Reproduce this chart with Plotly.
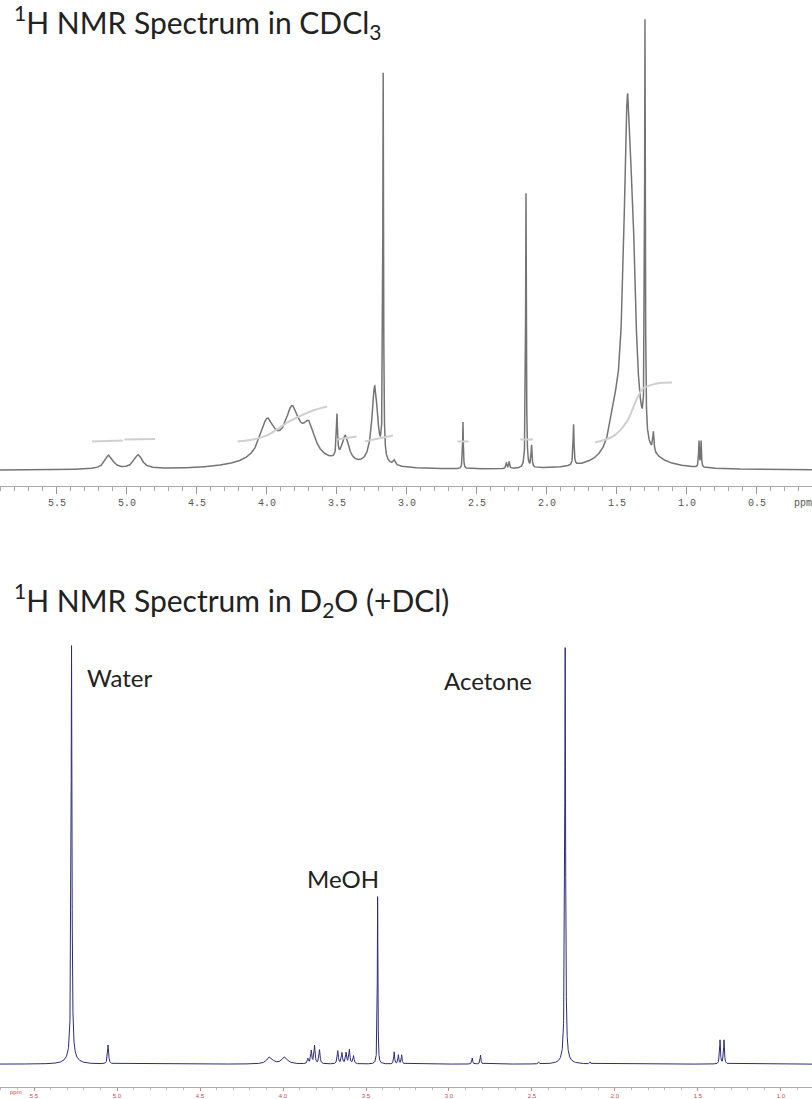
import numpy as np
import plotly.graph_objects as go

# ---------------- DATA ----------------
# 1H NMR in CDCl3 : peak list (ppm, intensity a.u., half-width ppm)
cdcl3_ppm = [5.13, 4.92, 4.00, 3.82, 3.70, 3.85, 3.50, 3.44, 3.23, 3.17, 3.09,
             2.60, 2.29, 2.27, 2.15, 2.11, 1.81, 1.52, 1.425, 1.385, 1.42, 1.30,
             1.24, 0.914, 0.899]
cdcl3_height = [14, 14, 36, 42, 28, 15, 42, 27, 80, 384, 5,
                47, 6, 7, 276, 22, 41, 25, 330, 110, 12, 414,
                19, 26, 26]
cdcl3_hwhm = [0.035, 0.035, 0.06, 0.06, 0.05, 0.25, 0.005, 0.03, 0.025, 0.003, 0.01,
              0.003, 0.004, 0.004, 0.003, 0.004, 0.004, 0.04, 0.033, 0.025, 0.15, 0.003,
              0.005, 0.003, 0.003]

# integral traces (ppm, integral height)
int1_ppm = [5.25, 5.03]; int1_val = [29, 30]
int2_ppm = [5.02, 4.80]; int2_val = [31, 31.5]
int3_ppm = [4.21, 4.10, 4.00, 3.84, 3.69, 3.57]; int3_val = [29, 31, 35, 49, 59, 64]
int4_ppm = [3.50, 3.36]; int4_val = [31, 34]
int5_ppm = [3.30, 3.10]; int5_val = [29, 35]
int6_ppm = [2.64, 2.56]; int6_val = [29, 29]
int7_ppm = [2.19, 2.10]; int7_val = [31, 31]
int8_ppm = [1.657, 1.529, 1.429, 1.357, 1.314, 1.214, 1.107]
int8_val = [28, 34, 49, 72, 82, 87, 88]

# 1H NMR in D2O (+DCl) : peak list
d2o_ppm = [5.274, 5.274, 5.054, 4.08, 3.99, 3.85, 3.83, 3.81, 3.78, 3.67, 3.645, 3.62, 3.60, 3.575,
           3.43, 3.33, 3.305, 3.285, 2.86, 2.81, 2.46, 2.30, 2.30, 2.15, 1.367, 1.343]
d2o_height = [412, 8, 19, 7, 7, 5, 13, 18, 14, 13, 11, 11, 14, 8,
              168, 12, 9, 9, 6, 9, 2, 413, 5, 2, 24, 24]
d2o_hwhm = [0.003, 0.03, 0.004, 0.02, 0.02, 0.004, 0.004, 0.004, 0.004, 0.004, 0.004, 0.004, 0.004, 0.004,
            0.002, 0.003, 0.003, 0.003, 0.003, 0.003, 0.003, 0.003, 0.025, 0.003, 0.003, 0.003]

peak_labels = ["Water", "MeOH", "Acetone"]
label_ppm = [5.19, 3.87, 3.04]
label_int = [388, 186, 385]

top_range = [5.907, 0.107]
bot_range = [5.705, 0.813]


def spectrum(lo, hi, ppm, hgt, hw):
    grid = np.concatenate([np.linspace(lo, hi, 12000), np.array(ppm)])
    grid = np.sort(grid)
    y = np.zeros_like(grid)
    for p, h, w in zip(ppm, hgt, hw):
        y += h * w**2 / ((grid - p)**2 + w**2)
    return grid, y


x1, y1 = spectrum(top_range[1], top_range[0], cdcl3_ppm, cdcl3_height, cdcl3_hwhm)
x2, y2 = spectrum(bot_range[1], bot_range[0], d2o_ppm, d2o_height, d2o_hwhm)

H = 1099.0
def py(px):
    return 1 - px / H

fig = go.Figure()
fig.add_trace(go.Scatter(x=x1, y=y1, mode="lines", line=dict(color="#747474", width=1.5),
                         xaxis="x", yaxis="y", hoverinfo="skip", showlegend=False))
for ip, iv in [(int1_ppm, int1_val), (int2_ppm, int2_val), (int3_ppm, int3_val),
               (int4_ppm, int4_val), (int5_ppm, int5_val), (int6_ppm, int6_val),
               (int7_ppm, int7_val), (int8_ppm, int8_val)]:
    fig.add_trace(go.Scatter(x=ip, y=iv, mode="lines", line=dict(color="#cfcfcf", width=2, shape="spline"),
                             xaxis="x", yaxis="y", hoverinfo="skip", showlegend=False))
fig.add_trace(go.Scatter(x=x2, y=y2, mode="lines", line=dict(color="#2c2c78", width=1),
                         xaxis="x2", yaxis="y2", hoverinfo="skip", showlegend=False))

for t, xp, yv in zip(peak_labels, label_ppm, label_int):
    fig.add_annotation(x=xp, y=yv, xref="x2", yref="y2", text=t, showarrow=False,
                       xanchor="left", yanchor="middle",
                       font=dict(family="Lato", size=24, color="#222"))

fig.add_annotation(x=12 / 812, y=py(22), xref="paper", yref="paper", showarrow=False,
                   xanchor="left", yanchor="middle",
                   text="<sup>1</sup>H NMR Spectrum in CDCl<sub>3</sub>",
                   font=dict(family="Lato", size=30, color="#222"))
fig.add_annotation(x=12 / 812, y=py(602), xref="paper", yref="paper", showarrow=False,
                   xanchor="left", yanchor="middle",
                   text="<sup>1</sup>H NMR Spectrum in D<sub>2</sub>O (+DCl)",
                   font=dict(family="Lato", size=30, color="#222"))
fig.add_annotation(x=792 / 812, y=py(505), xref="paper", yref="paper", showarrow=False,
                   xanchor="left", yanchor="middle", text="ppm",
                   font=dict(family="Liberation Mono", size=10, color="#555"))
fig.add_annotation(x=8 / 812, y=py(1096), xref="paper", yref="paper", showarrow=False,
                   xanchor="left", yanchor="middle", text="ppm",
                   font=dict(family="Liberation Sans", size=6, color="#d04848"))

fig.update_layout(
    width=812, height=1099, margin=dict(l=0, r=0, t=0, b=0),
    paper_bgcolor="white", plot_bgcolor="white", showlegend=False,
    xaxis=dict(domain=[0, 1], range=top_range, anchor="y", showgrid=False, zeroline=False,
               showline=True, linecolor="#aaaaaa", linewidth=1,
               ticks="outside", ticklen=7, tickcolor="#999", tick0=0, dtick=0.5,
               tickformat=".1f",
               minor=dict(ticks="outside", ticklen=4, dtick=0.1, tick0=0, tickcolor="#aaa"),
               tickfont=dict(family="Liberation Mono", size=10, color="#555")),
    yaxis=dict(domain=[py(488), py(15)], range=[-16, 457], visible=False, anchor="x"),
    xaxis2=dict(domain=[0, 1], range=bot_range, anchor="y2", showgrid=False, zeroline=False,
                showline=True, linecolor="#aaaaaa", linewidth=1,
                ticks="outside", ticklen=3, tickcolor="#c88", tick0=0, dtick=0.5,
                tickformat=".1f",
                minor=dict(ticks="outside", ticklen=2, dtick=0.1, tick0=0, tickcolor="#bbb"),
                tickfont=dict(family="Liberation Sans", size=6, color="#d04848")),
    yaxis2=dict(domain=[py(1091), py(640)], range=[-23, 428], visible=False, anchor="x2"),
)

fig.write_html("out.html")
